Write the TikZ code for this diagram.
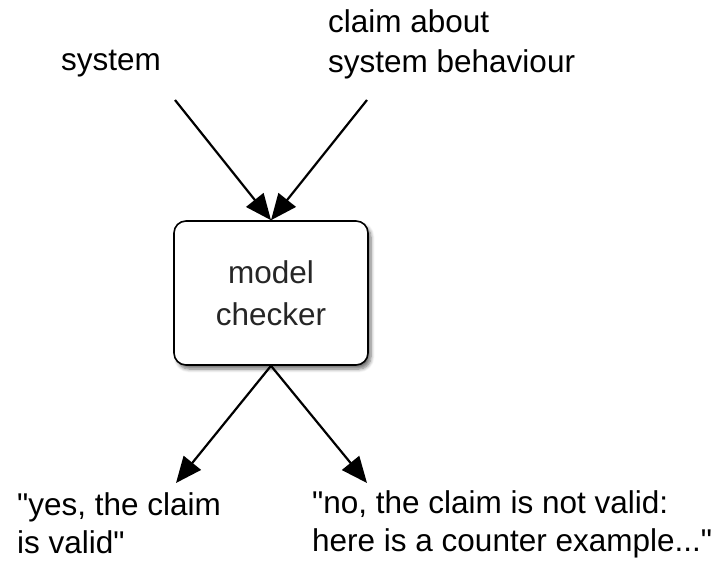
\documentclass[tikz,border=0pt]{standalone}
\usepackage{fontspec}
\setmainfont{Liberation Sans}
\usetikzlibrary{arrows.meta,shadows.blur}
\begin{document}
\begin{tikzpicture}[x=1pt,y=-1pt,
  lbl/.style={inner sep=0pt,font=\fontsize{31.5}{40}\selectfont,align=left},
  arr/.style={line width=2.2pt,-{Triangle[length=26pt,width=22pt]}},
  checkerbox/.style={draw,line width=1.6pt,rounded corners=12pt,fill=white,
    minimum width=194pt,minimum height=144pt,inner sep=0pt,
    blur shadow={shadow xshift=3pt,shadow yshift=-4pt,shadow blur steps=6,shadow blur radius=3.5pt,shadow opacity=55}}]
\useasboundingbox (0,0) rectangle (720,560);
\node[checkerbox] (box) at (271,293) {};
\node[lbl,align=center,anchor=north,text=black!85,font=\fontsize{31.5}{42}\selectfont] (boxtxt) at (271,260.5) {model\\checker};
\node[lbl,anchor=base] (sys) at (111,70) {system};
\node[lbl,anchor=north west] (claim) at (328,9.5) {claim about\\system behaviour};
\node[lbl,anchor=north west,font=\fontsize{31.5}{38}\selectfont] (yes) at (17,492.5) {\textquotedbl yes, the claim\\is valid\textquotedbl};
\node[lbl,anchor=north west,font=\fontsize{31.5}{38}\selectfont] (no) at (312,490.5) {\textquotedbl no, the claim is not valid:\\here is a counter example...\textquotedbl};
\coordinate (s1) at (175,100);
\coordinate (s2) at (367,100);
\coordinate (t1) at (176,483);
\coordinate (t2) at (367,483);
\draw[arr] (s1) -- (box.north);
\draw[arr] (s2) -- (box.north);
\draw[arr] (box.south) -- (t1);
\draw[arr] (box.south) -- (t2);
\end{tikzpicture}
\end{document}
